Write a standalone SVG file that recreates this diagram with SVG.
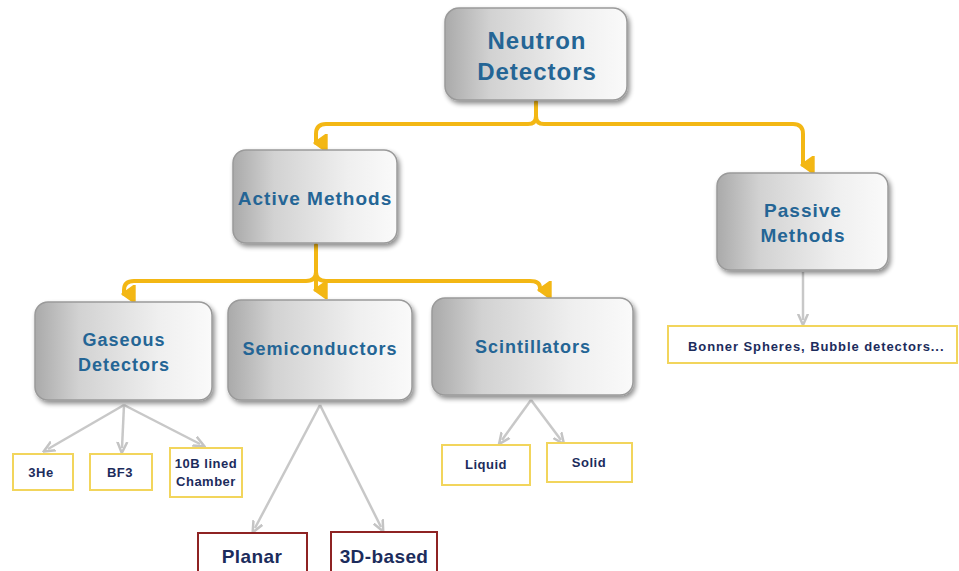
<svg xmlns="http://www.w3.org/2000/svg" width="959" height="571" viewBox="0 0 959 571">
<defs>
<linearGradient id="g" x1="0" y1="0" x2="1" y2="0">
<stop offset="0" stop-color="#aaaaaa"/>
<stop offset="0.25" stop-color="#d2d2d2"/>
<stop offset="0.7" stop-color="#efefef"/>
<stop offset="1" stop-color="#fafafa"/>
</linearGradient>
<filter id="sh" x="-10%" y="-10%" width="125%" height="130%">
<feGaussianBlur in="SourceAlpha" stdDeviation="2.5"/>
<feOffset dx="2" dy="3" result="b"/>
<feComponentTransfer><feFuncA type="linear" slope="0.45"/></feComponentTransfer>
<feMerge><feMergeNode/><feMergeNode in="SourceGraphic"/></feMerge>
</filter>
<marker id="ya" viewBox="0 0 10 10" refX="5" refY="8" markerWidth="4.5" markerHeight="4.5" orient="auto-start-reverse" markerUnits="strokeWidth">
<path d="M0,2 L10,2 L5,9 Z" fill="#f3b714" stroke="#f3b714" stroke-linejoin="round"/>
</marker>
<marker id="ga" viewBox="0 0 10 10" refX="5" refY="5" markerWidth="5" markerHeight="5" orient="auto" markerUnits="strokeWidth">
<path d="M0,1 L9,5 L0,9" fill="none" stroke="#c4c4c4" stroke-width="2"/>
</marker>
</defs>
<style>
.node{fill:url(#g);stroke:#9a9a9a;stroke-width:1.5;filter:url(#sh)}
.nt{font-family:"Liberation Sans",Arial,sans-serif;font-weight:bold;fill:#246595;text-anchor:middle;letter-spacing:1px}
.leaf{fill:#ffffff;stroke:#f2d55c;stroke-width:2}
.lt{font-family:"Liberation Sans",Arial,sans-serif;font-weight:bold;fill:#1c2c5c;text-anchor:middle;font-size:13px;letter-spacing:0.5px}
.red{fill:#ffffff;stroke:#8e2323;stroke-width:2}
.rt{font-family:"Liberation Sans",Arial,sans-serif;font-weight:bold;fill:#1c2c5c;text-anchor:middle;font-size:19px;letter-spacing:0.4px}
.y{fill:none;stroke:#f3b714;stroke-width:4;stroke-linecap:round;stroke-linejoin:round}
.gr{fill:none;stroke:#c8c8c8;stroke-width:2.5}
</style>
<rect width="959" height="571" fill="#ffffff"/>
<g id="connectors">
<path class="y" d="M536,102 L536,116 Q536,124 528,124 L326,124 Q316,124 316,134 L316,143" marker-end="url(#ya)"/>
<path class="y" d="M536,116 Q536,124 544,124 L793,124 Q803,124 803,134 L803,165" marker-end="url(#ya)"/>
<path class="y" d="M316,245 L316,290" marker-end="url(#ya)"/>
<path class="y" d="M316,272 Q316,281 306,281 L134,281 Q124,281 124,290 L124,294" marker-end="url(#ya)"/>
<path class="y" d="M316,272 Q316,281 326,281 L530,281 Q540,281 540,288 L540,290" marker-end="url(#ya)"/>
<path class="gr" d="M803,272 L803,320" marker-end="url(#ga)"/>
<path class="gr" d="M124,405 L48,449" marker-end="url(#ga)"/>
<path class="gr" d="M124,405 L122,448" marker-end="url(#ga)"/>
<path class="gr" d="M124,405 L200,444" marker-end="url(#ga)"/>
<path class="gr" d="M531,400 L502,440" marker-end="url(#ga)"/>
<path class="gr" d="M531,400 L561,440" marker-end="url(#ga)"/>
<path class="gr" d="M320,405 L255,528" marker-end="url(#ga)"/>
<path class="gr" d="M320,405 L381,527" marker-end="url(#ga)"/>
</g>
<g id="neutron">
<rect class="node" x="445" y="8" width="182" height="92" rx="14"/>
<text class="nt" x="537" y="49" font-size="24" letter-spacing="1.2">Neutron</text>
<text class="nt" x="537" y="80" font-size="24" letter-spacing="1.2">Detectors</text>
</g>
<g id="active">
<rect class="node" x="233" y="150" width="164" height="93" rx="13"/>
<text class="nt" x="315" y="205" font-size="19">Active Methods</text>
</g>
<g id="passive">
<rect class="node" x="717" y="173" width="171" height="97" rx="13"/>
<text class="nt" x="803" y="217" font-size="19">Passive</text>
<text class="nt" x="803" y="242" font-size="19">Methods</text>
</g>
<g id="gaseous">
<rect class="node" x="35" y="302" width="177" height="98" rx="13"/>
<text class="nt" x="124" y="346" font-size="18">Gaseous</text>
<text class="nt" x="124" y="371" font-size="18">Detectors</text>
</g>
<g id="semiconductors">
<rect class="node" x="228" y="300" width="184" height="100" rx="13"/>
<text class="nt" x="320" y="355" font-size="18" letter-spacing="1.3">Semiconductors</text>
</g>
<g id="scintillators">
<rect class="node" x="432" y="298" width="201" height="97" rx="13"/>
<text class="nt" x="533" y="353" font-size="18">Scintillators</text>
</g>
<g id="bonner">
<rect class="leaf" x="668" y="326" width="289" height="37"/>
<text class="lt" x="816" y="351" font-size="14" textLength="256" lengthAdjust="spacing">Bonner Spheres, Bubble detectors...</text>
</g>
<g id="he3">
<rect class="leaf" x="13" y="454" width="60" height="36"/>
<text class="lt" x="41" y="477">3He</text>
</g>
<g id="bf3">
<rect class="leaf" x="90" y="454" width="62" height="36"/>
<text class="lt" x="120" y="477">BF3</text>
</g>
<g id="b10">
<rect class="leaf" x="170" y="448" width="72" height="49"/>
<text class="lt" x="206" y="468" letter-spacing="0.3">10B lined</text>
<text class="lt" x="206" y="486" letter-spacing="0.3">Chamber</text>
</g>
<g id="liquid">
<rect class="leaf" x="442" y="445" width="88" height="40"/>
<text class="lt" x="486" y="469">Liquid</text>
</g>
<g id="solid">
<rect class="leaf" x="547" y="443" width="85" height="39"/>
<text class="lt" x="589" y="467">Solid</text>
</g>
<g id="planar">
<rect class="red" x="198" y="533" width="109" height="44"/>
<text class="rt" x="252" y="563">Planar</text>
</g>
<g id="based3d">
<rect class="red" x="331" y="532" width="106" height="45"/>
<text class="rt" x="384" y="563">3D-based</text>
</g>
</svg>
